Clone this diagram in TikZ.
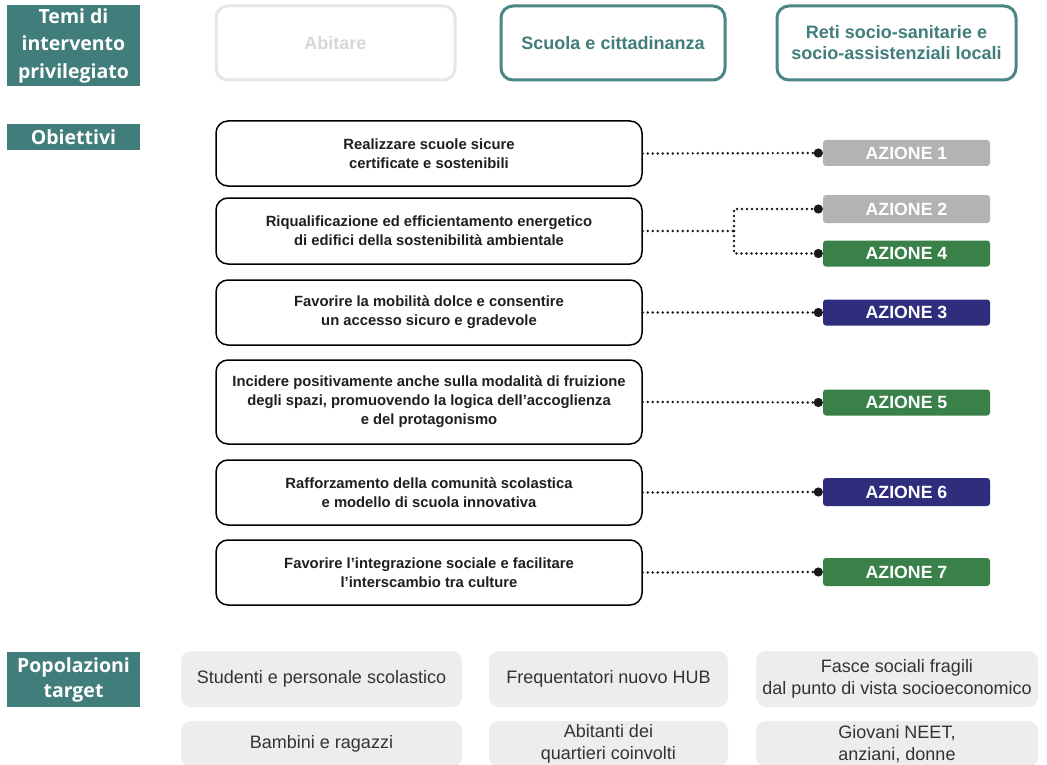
\documentclass[tikz,border=0pt]{standalone}
\usepackage{fontspec}
\setmainfont{Liberation Sans}
\newfontfamily\labfont{Open Sans}
\usetikzlibrary{arrows.meta}
\definecolor{teal1}{HTML}{417D7A}
\definecolor{tealb}{HTML}{4A8784}
\definecolor{lgray}{HTML}{E6E6E6}
\definecolor{agray}{HTML}{B3B3B3}
\definecolor{agreen}{HTML}{3A8049}
\definecolor{anavy}{HTML}{2F2E7D}
\definecolor{pfill}{HTML}{EDEDED}
\definecolor{ptext}{HTML}{333333}
\tikzset{
  lab/.style={fill=teal1, text=white, font=\labfont\bfseries\fontsize{19.5}{27.5}\selectfont, align=center, minimum width=133pt, inner sep=0pt},
  theme/.style={draw=tealb, line width=3pt, rounded corners=12pt, text=teal1, font=\bfseries\fontsize{18}{21}\selectfont, align=center, minimum height=74pt, inner sep=0pt},
  obj/.style={draw=black, line width=1.5pt, rounded corners=12pt, font=\bfseries\fontsize{14.8}{19}\selectfont, align=center, minimum width=426pt, inner sep=0pt, text=black!88},
  act/.style={rounded corners=3pt, text=white, font=\bfseries\fontsize{17.7}{18}\selectfont, minimum width=167pt, minimum height=26pt, inner sep=0pt},
  pop/.style={fill=pfill, rounded corners=10pt, text=ptext, font=\fontsize{18}{22}\selectfont, align=center, inner sep=0pt},
  conn/.style={line width=2.7pt, dash pattern=on 0pt off 5pt, line cap=round, black!90, -{Circle[length=9pt,width=9pt]}},
  connb/.style={line width=2.7pt, dash pattern=on 0pt off 5pt, line cap=round, black!90}
}
\begin{document}
\begin{tikzpicture}[x=1pt,y=-1pt]
\clip (0,0) rectangle (1047,765);
\fill[white] (0,0) rectangle (1047,765);
% left labels
\node[lab, minimum height=81pt] (lt) at (73.5,45.5) {Temi di\\intervento\\privilegiato};
\node[lab, minimum height=26pt] (lo) at (73.5,137) {Obiettivi};
\node[lab, minimum height=55pt, font=\labfont\bfseries\fontsize{19.5}{25}\selectfont] (lp) at (73.5,679.5) {Popolazioni\\target};
% themes
\node[theme, draw=lgray, text=lgray!85!gray, minimum width=239pt] (t1) at (335.5,43) {Abitare};
\node[theme, minimum width=224pt] (t2) at (613,43) {Scuola e cittadinanza};
\node[theme, minimum width=239pt] (t3) at (896.5,43) {Reti socio-sanitarie e\\socio-assistenziali locali};
% objectives
\node[obj, minimum height=65pt] (o1) at (429,153.5) {Realizzare scuole sicure\\certificate e sostenibili};
\node[obj, minimum height=66pt] (o2) at (429,231) {Riqualificazione ed efficientamento energetico\\di edifici della sostenibilità ambientale};
\node[obj, minimum height=65pt] (o3) at (429,312.5) {Favorire la mobilità dolce e consentire\\un accesso sicuro e gradevole};
\node[obj, minimum height=84pt] (o4) at (429,402) {Incidere positivamente anche sulla modalità di fruizione\\degli spazi, promuovendo la logica dell'accoglienza\\e del protagonismo};
\node[obj, minimum height=65pt] (o5) at (429,492.5) {Rafforzamento della comunità scolastica\\e modello di scuola innovativa};
\node[obj, minimum height=65pt] (o6) at (429,572.5) {Favorire l’integrazione sociale e facilitare\\l’interscambio tra culture};
% actions
\node[act, fill=agray] (a1) at (906.5,153) {AZIONE 1};
\node[act, fill=agray, minimum height=28pt] (a2) at (906.5,209) {AZIONE 2};
\node[act, fill=agreen] (a4) at (906.5,253.5) {AZIONE 4};
\node[act, fill=anavy] (a3) at (906.5,312.5) {AZIONE 3};
\node[act, fill=agreen] (a5) at (906.5,402.5) {AZIONE 5};
\node[act, fill=anavy, minimum height=28pt] (a6) at (906.5,492) {AZIONE 6};
\node[act, fill=agreen, minimum height=28pt] (a7) at (906.5,572) {AZIONE 7};
% connectors
\coordinate (br) at (734,231);
\draw[conn] (o1.east) -- (a1.west);
\draw[connb] (o2.east) -- (br);
\draw[conn] (br) |- (a2.west);
\draw[conn] (br) |- (a4.west);
\draw[conn] (o3.east) -- (a3.west);
\draw[conn] (o4.east) -- (a5.west);
\draw[conn] (o5.east) -- (a6.west);
\draw[conn] (o6.east) -- (a7.west);
% populations
\node[pop, minimum width=281pt, minimum height=56pt] (p1) at (321.5,679) {Studenti e personale scolastico};
\node[pop, minimum width=239pt, minimum height=56pt] (p2) at (608.5,679) {Frequentatori nuovo HUB};
\node[pop, minimum width=282pt, minimum height=56pt] (p3) at (897,679) {Fasce sociali fragili\\dal punto di vista socioeconomico};
\node[pop, minimum width=281pt, minimum height=46pt] (p4) at (321.5,744) {Bambini e ragazzi};
\node[pop, minimum width=239pt, minimum height=46pt] (p5) at (608.5,744) {Abitanti dei\\quartieri coinvolti};
\node[pop, minimum width=282pt, minimum height=46pt] (p6) at (897,744) {Giovani NEET,\\anziani, donne};
\end{tikzpicture}
\end{document}
